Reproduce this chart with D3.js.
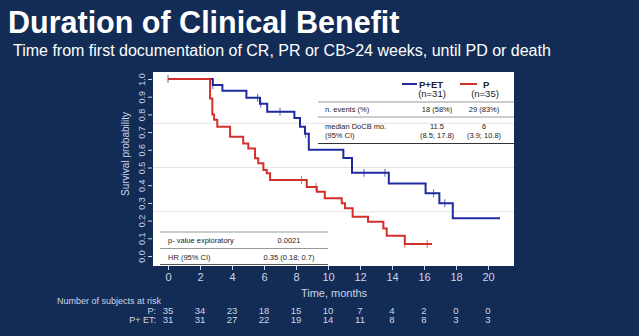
<!DOCTYPE html>
<html>
<head>
<meta charset="utf-8">
<script src="https://cdn.jsdelivr.net/npm/d3@7"></script>
<style>
  html, body { margin: 0; padding: 0; background: #122c56; }
  svg { display: block; font-family: "Liberation Sans", Arial, sans-serif; }
</style>
</head>
<body>
<svg id="km_svg" width="639" height="336"></svg>
<script>
// ---- データ ----
// 軸の目盛り
var xTicks = [0, 2, 4, 6, 8, 10, 12, 14, 16, 18, 20];
var yTicks = [0, 0.1, 0.2, 0.3, 0.4, 0.5, 0.6, 0.7, 0.8, 0.9, 1.0];
var gridY = [0.25, 0.5, 0.75];

// P+ET (n=31) の段差（時間, 生存率）
var petTimes = [0, 2.8, 3.4, 4.9, 5.75, 6.2, 7.9, 8.25, 8.56, 8.8, 10.96, 11.5, 13.8, 16.1, 16.96, 17.8];
var petSurv  = [1, 0.966, 0.933, 0.894, 0.86, 0.815, 0.78, 0.73, 0.69, 0.60, 0.554, 0.47, 0.41, 0.354, 0.298, 0.213];
var petEnd = 20.75;
var petCensor = [0, 2.8, 5.6, 5.8, 7.0, 8.6, 12.25, 13.56, 16.6, 17.3];

// P (n=35)
var pTimes = [0, 2.63, 2.77, 2.88, 3.08, 3.88, 4.7, 5.02, 5.44, 5.64, 5.96, 6.17, 6.38, 8.67, 9.3, 9.8, 10.86, 11.06, 11.54, 12.5, 13.46, 13.67, 14.8];
var pSurv  = [1, 0.89, 0.80, 0.77, 0.73, 0.674, 0.636, 0.608, 0.552, 0.524, 0.486, 0.467, 0.429, 0.39, 0.363, 0.326, 0.298, 0.27, 0.222, 0.194, 0.156, 0.115, 0.068];
var pEnd = 16.5;
var pCensor = [8.35, 9.25, 14.8, 16.2];

// リスク集合
var riskP   = [35, 34, 23, 18, 15, 10, 7, 4, 2, 0, 0];
var riskPET = [31, 31, 27, 22, 19, 14, 11, 8, 8, 3, 3];

// 表の中身
var legendRows = [
    ['n. events (%)', '18 (58%)', '29 (83%)'],
    ['median DoCB mo.|(95% CI)', '11.5|(8.5; 17.8)', '6|(3.9; 10.8)']
];
var hrRows = [
    ['p- value exploratory', '0.0021'],
    ['HR (95%  CI)', '0.35 (0.18;  0.7)']
];

var BLUE = '#1f2a9e';
var RED = '#d3302c';
var PALE = '#cdd5e6';

draw();

function draw(){
    var svg = d3.select('#km_svg');

    // タイトル
    svg.append('text').attr('x', 8).attr('y', 33)
        .attr('fill', '#fff').attr('font-weight', 'bold').attr('font-size', 30.5)
        .text('Duration of Clinical Benefit');
    svg.append('text').attr('x', 13).attr('y', 56)
        .attr('fill', '#fff').attr('font-size', 16)
        .text('Time from first documentation of CR, PR or CB>24 weeks, until PD or death');

    // スケール
    var x = d3.scaleLinear().domain([0, 20]).range([168, 488]);
    var y = d3.scaleLinear().domain([0, 1]).range([256, 79]);

    // 白いプロット領域
    svg.append('rect').attr('x', 153).attr('y', 72).attr('width', 361).attr('height', 194)
        .attr('fill', '#fff');

    // グリッド
    svg.append('g').selectAll('line').data(gridY).join('line')
        .attr('x1', 153).attr('x2', 514)
        .attr('y1', d => y(d)).attr('y2', d => y(d))
        .attr('stroke', '#e4e4e4').attr('stroke-width', 1);

    // y軸（ラベルは縦書き）
    var yAxis = svg.append('g').attr('transform', 'translate(152,0)')
        .call(d3.axisLeft(y).tickValues(yTicks).tickFormat(d3.format('.1f')).tickSize(4));
    yAxis.select('.domain').remove();
    yAxis.selectAll('line').attr('stroke', PALE);
    yAxis.selectAll('text')
        .attr('fill', PALE).attr('font-size', 9).attr('font-family', null)
        .attr('x', -10).attr('y', 0).attr('dy', '0.35em')
        .attr('text-anchor', 'middle')
        .attr('transform', 'rotate(-90,-10,0)');

    svg.append('text')
        .attr('transform', 'translate(129,154) rotate(-90)')
        .attr('text-anchor', 'middle').attr('fill', PALE).attr('font-size', 10)
        .text('Survival probability');

    // x軸
    var xAxis = svg.append('g').attr('transform', 'translate(0,266)')
        .call(d3.axisBottom(x).tickValues(xTicks).tickSize(4).tickPadding(3));
    xAxis.select('.domain').remove();
    xAxis.selectAll('line').attr('stroke', PALE);
    xAxis.selectAll('text').attr('fill', PALE).attr('font-size', 11).attr('font-family', null);

    svg.append('text').attr('x', 334).attr('y', 297).attr('text-anchor', 'middle')
        .attr('fill', PALE).attr('font-size', 11).text('Time, months');

    // 生存曲線
    drawCurve(svg, x, y, petTimes, petSurv, petEnd, petCensor, BLUE);
    drawCurve(svg, x, y, pTimes, pSurv, pEnd, pCensor, RED);

    // 凡例と表（右上）
    drawLegendTable(svg);
    // HR表（左下）
    drawHrTable(svg);

    // Number at risk
    svg.append('text').attr('x', 161).attr('y', 304).attr('text-anchor', 'end')
        .attr('fill', PALE).attr('font-size', 9).text('Number of subjects at risk');
    svg.append('text').attr('x', 156).attr('y', 313.5).attr('text-anchor', 'end')
        .attr('fill', PALE).attr('font-size', 9).text('P:');
    svg.append('text').attr('x', 156).attr('y', 322.5).attr('text-anchor', 'end')
        .attr('fill', PALE).attr('font-size', 9).text('P+ ET:');
    svg.append('g').selectAll('text').data(riskP).join('text')
        .attr('x', (d, i) => x(xTicks[i])).attr('y', 313.5).attr('text-anchor', 'middle')
        .attr('fill', PALE).attr('font-size', 9.5).text(d => d);
    svg.append('g').selectAll('text').data(riskPET).join('text')
        .attr('x', (d, i) => x(xTicks[i])).attr('y', 322.5).attr('text-anchor', 'middle')
        .attr('fill', PALE).attr('font-size', 9.5).text(d => d);
}

// 階段状の曲線と打ち切りマーク
function drawCurve(svg, x, y, times, surv, end, censor, color){
    var pts = times.map((t, i) => [t, surv[i]]);
    pts.push([end, surv[surv.length - 1]]);
    var line = d3.line().x(d => x(d[0])).y(d => y(d[1])).curve(d3.curveStepAfter);
    svg.append('path').datum(pts).attr('d', line)
        .attr('fill', 'none').attr('stroke', color).attr('stroke-width', 2);

    svg.append('g').selectAll('line').data(censor).join('line')
        .attr('x1', d => x(d)).attr('x2', d => x(d))
        .attr('y1', d => y(survAt(times, surv, d)) - 4)
        .attr('y2', d => y(survAt(times, surv, d)) + 4)
        .attr('stroke', color).attr('stroke-width', 1).attr('opacity', 0.7);
}

function survAt(times, surv, t){
    var i = d3.bisectRight(times, t) - 1;
    return surv[Math.max(i, 0)];
}

function drawLegendTable(svg){
    var g = svg.append('g');
    // 凡例
    g.append('line').attr('x1', 402).attr('x2', 417).attr('y1', 84).attr('y2', 84)
        .attr('stroke', BLUE).attr('stroke-width', 2);
    g.append('text').attr('x', 419).attr('y', 88).attr('font-size', 9.5).attr('font-weight', 'bold')
        .attr('fill', '#222').text('P+ET');
    g.append('text').attr('x', 432).attr('y', 97).attr('font-size', 9.5).attr('text-anchor', 'middle')
        .attr('fill', '#222').text('(n=31)');
    g.append('line').attr('x1', 460).attr('x2', 477).attr('y1', 84).attr('y2', 84)
        .attr('stroke', RED).attr('stroke-width', 2);
    g.append('text').attr('x', 483).attr('y', 88).attr('font-size', 9.5).attr('font-weight', 'bold')
        .attr('fill', '#222').text('P');
    g.append('text').attr('x', 485).attr('y', 97).attr('font-size', 9.5).attr('text-anchor', 'middle')
        .attr('fill', '#222').text('(n=35)');

    // 罫線
    g.append('line').attr('x1', 318).attr('x2', 514).attr('y1', 102).attr('y2', 102)
        .attr('stroke', '#999').attr('stroke-width', 1);
    g.append('line').attr('x1', 318).attr('x2', 514).attr('y1', 117).attr('y2', 117)
        .attr('stroke', '#999').attr('stroke-width', 1);
    g.append('line').attr('x1', 318).attr('x2', 514).attr('y1', 143.5).attr('y2', 143.5)
        .attr('stroke', '#333').attr('stroke-width', 1.2);

    var colX = [325, 437, 484];
    var rowY = [112, 129];
    legendRows.forEach((row, r) => {
        row.forEach((cell, c) => {
            var parts = cell.split('|');
            parts.forEach((p, k) => {
                g.append('text').attr('x', colX[c]).attr('y', rowY[r] + k * 9)
                    .attr('text-anchor', c === 0 ? 'start' : 'middle')
                    .attr('font-size', 7.5).attr('fill', '#222').text(p);
            });
        });
    });
}

function drawHrTable(svg){
    var g = svg.append('g');
    g.append('line').attr('x1', 160).attr('x2', 328).attr('y1', 232).attr('y2', 232)
        .attr('stroke', '#999').attr('stroke-width', 1);
    g.append('line').attr('x1', 160).attr('x2', 328).attr('y1', 248.5).attr('y2', 248.5)
        .attr('stroke', '#999').attr('stroke-width', 1);
    g.append('line').attr('x1', 160).attr('x2', 328).attr('y1', 264.5).attr('y2', 264.5)
        .attr('stroke', '#555').attr('stroke-width', 1.2);
    var rowY = [243, 260];
    hrRows.forEach((row, r) => {
        g.append('text').attr('x', 168).attr('y', rowY[r]).attr('font-size', 7.5)
            .attr('fill', '#222').text(row[0]);
        g.append('text').attr('x', 289).attr('y', rowY[r]).attr('font-size', 7.5)
            .attr('text-anchor', 'middle').attr('fill', '#222').text(row[1]);
    });
}
</script>
</body>
</html>
